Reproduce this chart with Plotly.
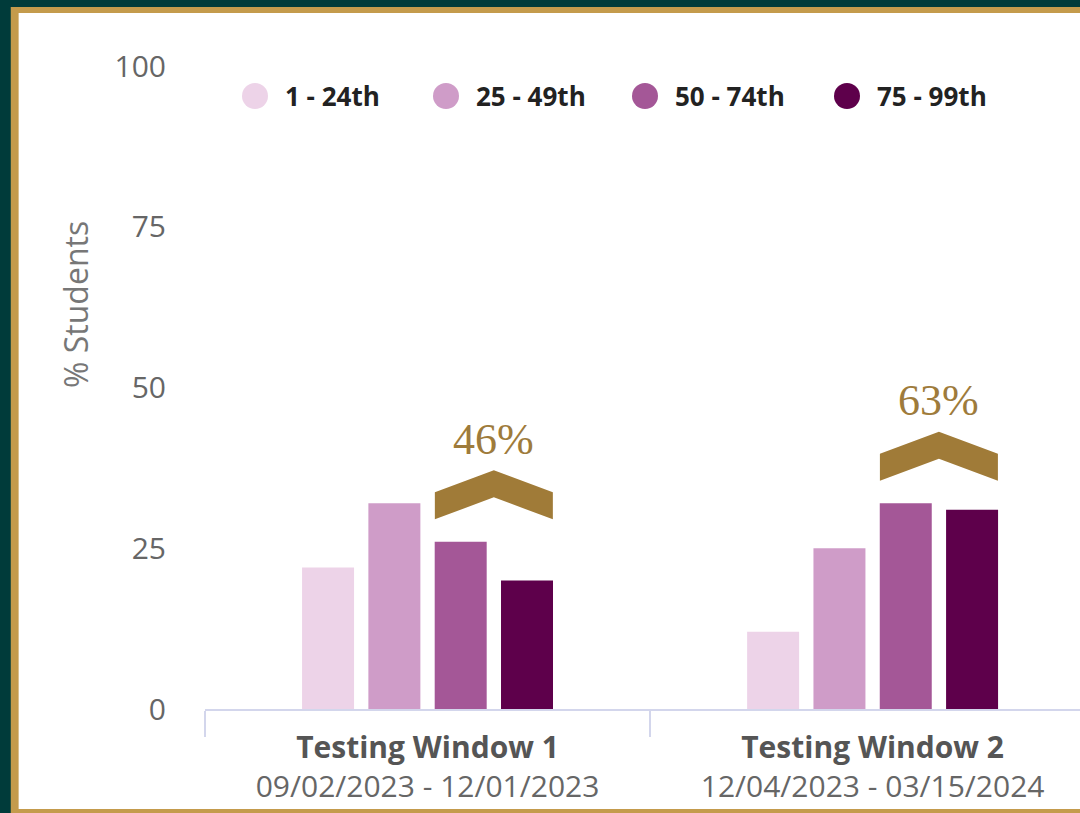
import plotly.graph_objects as go

windows = ["Testing Window 1", "Testing Window 2"]
date_ranges = ["09/02/2023 - 12/01/2023", "12/04/2023 - 03/15/2024"]
bands = ["1 - 24th", "25 - 49th", "50 - 74th", "75 - 99th"]
pct_1_24 = [22, 12]
pct_25_49 = [32, 25]
pct_50_74 = [26, 32]
pct_75_99 = [20, 31]

colors = ["#EDD3E8", "#CF9CC8", "#A45797", "#5E004B"]
gold = "#A07B38"
series = [pct_1_24, pct_25_49, pct_50_74, pct_75_99]

bargap = 0.404
fig = go.Figure()
for name, vals, col in zip(bands, series, colors):
    fig.add_trace(go.Bar(x=windows, y=vals, name=name, marker_color=col,
                         marker_line_width=0, showlegend=False))

# frame around the chart
fig.add_shape(type="rect", xref="paper", yref="paper", x0=-0.222, x1=1.05,
              y0=-0.17, y1=1.0918, fillcolor="#C49B4C", line_width=0, layer="below")
fig.add_shape(type="rect", xref="paper", yref="paper", x0=-0.213, x1=1.05,
              y0=-0.1555, y1=1.0824, fillcolor="white", line_width=0, layer="below")

# chevrons over the top two bands (bars 3 and 4 of each group)
slot = (1 - bargap) / 4
chevron = "M-59,0 L-59,27 L0,49 L59,27 L59,0 L0,22 Z"
for i, w in enumerate(windows):
    top = pct_50_74[i] + pct_75_99[i]
    base = max(pct_50_74[i], pct_75_99[i]) + 3.5
    xc = i + slot
    fig.add_shape(type="path", xref="x", yref="y", xsizemode="pixel", ysizemode="pixel",
                  xanchor=xc, yanchor=base, path=chevron, fillcolor=gold, line_width=0)
    fig.add_annotation(x=xc, y=base, text=f"{top}%", showarrow=False, yshift=80,
                       font=dict(family="Liberation Serif", size=44, color="#9E7B3B"))

# legend drawn by hand to get large circles
legend_x = [255, 446, 645, 847]
for name, col, px in zip(bands, colors, legend_x):
    xp = (px - 205) / 875
    fig.add_shape(type="circle", xref="paper", yref="paper", xsizemode="pixel",
                  ysizemode="pixel", xanchor=xp, yanchor=(709 - 96) / 643,
                  x0=-13, x1=13, y0=-13, y1=13, fillcolor=col, line_width=0)
    fig.add_annotation(xref="paper", yref="paper", x=(px + 28 - 205) / 875,
                       y=(709 - 96) / 643, text=f"<b>{name}</b>", showarrow=False,
                       xanchor="left", yanchor="middle",
                       font=dict(family="Open Sans", size=26, color="#222222"))

fig.add_annotation(xref="paper", yref="paper", x=(75 - 205) / 875, y=(709 - 305) / 643,
                   text="% Students", textangle=-90, showarrow=False,
                   xanchor="center", yanchor="middle",
                   font=dict(family="Open Sans", size=32, color="#777777"))

ticktext = [f"<b>{w}</b><br><span style='color:#666666'>{d}</span>"
            for w, d in zip(windows, date_ranges)]

fig.update_layout(
    width=1080, height=813,
    margin=dict(l=205, r=0, t=66, b=104),
    paper_bgcolor="#003B3A",
    plot_bgcolor="white",
    barmode="group",
    bargap=bargap,
    bargroupgap=0.216,
    font=dict(family="Open Sans", color="#666666"),
    xaxis=dict(
        range=[-0.5, 1.466],
        tickvals=windows, ticktext=ticktext,
        tickfont=dict(size=30, color="#555555"),
        showline=True, linecolor="#D3D6EC", linewidth=2,
        ticks="outside", tickson="boundaries", ticklen=26, tickwidth=2,
        tickcolor="#D3D6EC", showgrid=False, ticklabelstandoff=11,
    ),
    yaxis=dict(
        range=[0, 100], tickvals=[0, 25, 50, 75, 100],
        tickfont=dict(size=30, color="#666666"),
        showgrid=False, zeroline=False, showline=False,
        ticklabelstandoff=38,
    ),
)

fig.write_html("out.html", config={"displayModeBar": False},
               post_script="document.body.style.margin='0';")
